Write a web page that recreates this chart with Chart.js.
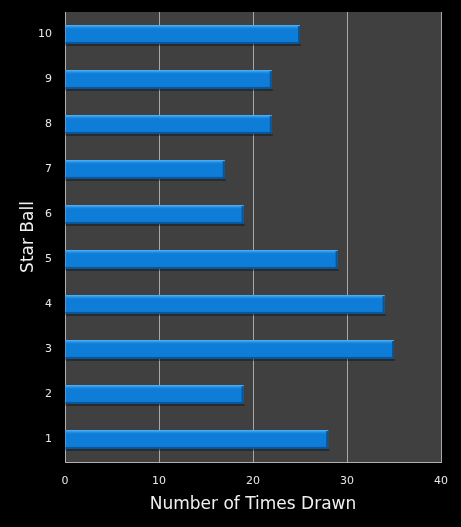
<!DOCTYPE html>
<html>
<head>
<meta charset="utf-8">
<script src="https://cdn.jsdelivr.net/npm/chart.js@4/dist/chart.umd.min.js"></script>
<style>
html,body{margin:0;padding:0;background:#000;}
#wrap{width:461px;height:527px;}
</style>
</head>
<body>
<div id="wrap"><canvas id="c" width="461" height="527"></canvas></div>
<script>
const categories = ['1','2','3','4','5','6','7','8','9','10'];
const timesDrawn = [28, 19, 35, 34, 29, 19, 17, 22, 22, 25];
const xTicks = [0, 10, 20, 30, 40];

const plotBg = {
  id: 'plotBg',
  beforeDraw(chart) {
    const {ctx, chartArea: a} = chart;
    ctx.save();
    ctx.fillStyle = '#404040';
    ctx.fillRect(a.left, a.top, a.right - a.left, a.bottom - a.top);
    ctx.restore();
  }
};

const bevel = {
  id: 'bevel',
  afterDatasetsDraw(chart) {
    const ctx = chart.ctx;
    const meta = chart.getDatasetMeta(0);
    ctx.save();
    meta.data.forEach(bar => {
      const p = bar.getProps(['x', 'y', 'base', 'height'], true);
      const l = Math.min(p.base, p.x), r = Math.max(p.base, p.x);
      const t = p.y - p.height / 2, b = p.y + p.height / 2;
      const g = ctx.createLinearGradient(0, t, 0, t + 4);
      g.addColorStop(0, '#5ab8f6');
      g.addColorStop(1, 'rgba(40,150,235,0)');
      ctx.fillStyle = g;
      ctx.fillRect(l, t, r - l, 4);
      ctx.fillStyle = '#0b5799';
      ctx.fillRect(l, b - 2, r - l, 2);
      ctx.fillStyle = '#0a5596';
      ctx.fillRect(r - 2, t + 1, 2, b - t - 1);
      ctx.fillStyle = 'rgba(0,0,0,0.35)';
      ctx.fillRect(l, b, r - l + 1, 2);
    });
    ctx.restore();
  }
};

new Chart(document.getElementById('c'), {
  type: 'bar',
  data: {
    labels: categories,
    datasets: [{
      data: timesDrawn,
      backgroundColor: '#0d7dd8',
      borderWidth: 0,
      categoryPercentage: 1,
      barPercentage: 0.42
    }]
  },
  options: {
    indexAxis: 'y',
    responsive: false,
    animation: false,
    devicePixelRatio: 1,
    layout: {padding: {top: 12, right: 20, left: 0, bottom: 0}},
    plugins: {legend: {display: false}, tooltip: {enabled: false}},
    scales: {
      x: {
        min: 0, max: 40,
        afterBuildTicks(scale) { scale.ticks = xTicks.map(v => ({value: v})); },
        afterFit(scale) { scale.height = 65; scale.paddingLeft = 0; scale.paddingRight = 0; },
        grid: {color: '#a8a8a8', lineWidth: 1, drawTicks: false},
        border: {display: true, color: '#b0b0b0', width: 1},
        ticks: {color: '#e8e8e8', font: {family: 'DejaVu Sans', size: 11}, padding: 13},
        title: {display: true, text: 'Number of Times Drawn', color: '#f0f0f0',
                font: {family: 'DejaVu Sans', size: 17}, padding: {top: 4, bottom: 12}}
      },
      y: {
        reverse: true,
        afterFit(scale) { scale.width = 65; scale.paddingTop = 0; scale.paddingBottom = 0; },
        grid: {display: false, drawTicks: false},
        border: {display: true, color: '#b0b0b0', width: 1},
        ticks: {color: '#e8e8e8', font: {family: 'DejaVu Sans', size: 11}, padding: 13},
        title: {display: true, text: 'Star Ball', color: '#f0f0f0',
                font: {family: 'DejaVu Sans', size: 17}, padding: {top: 18, bottom: 0}}
      }
    }
  },
  plugins: [plotBg, bevel]
});
</script>
</body>
</html>
